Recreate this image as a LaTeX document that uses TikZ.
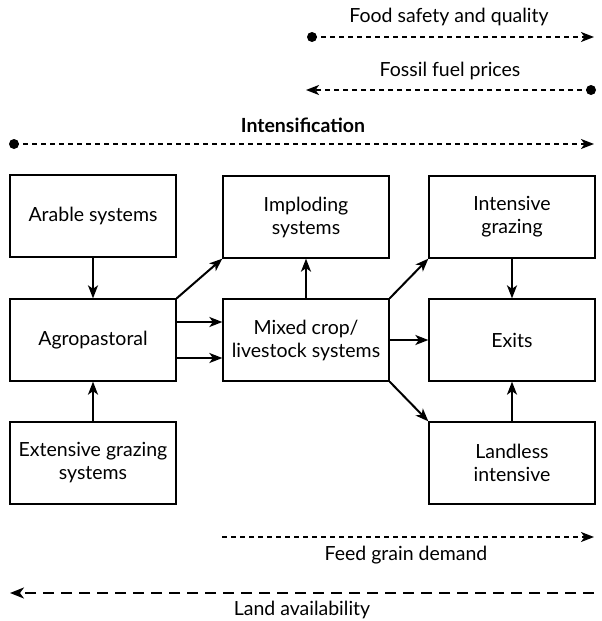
\documentclass[tikz,border=0pt]{standalone}
\usepackage{fontspec}
\setmainfont{Lato}
\usetikzlibrary{arrows.meta}
\begin{document}
\begin{tikzpicture}[x=1pt,y=-1pt,
  box/.style={draw,line width=1.3pt,minimum width=166pt,minimum height=82pt,align=center,inner sep=2pt,font=\fontsize{19.5}{23}\selectfont},
  flow/.style={line width=2pt,-{Stealth[length=13pt,width=10pt,inset=3.5pt]}},
  dotline/.style={line width=1.6pt,dash pattern=on 5pt off 4pt},
  longdash/.style={line width=2pt,dash pattern=on 11pt off 7pt},
  tipR/.style={-{Stealth[length=13pt,width=10pt,inset=3.5pt]}},
  lbl/.style={font=\fontsize{19.5}{23}\selectfont,inner sep=0pt}
]
\useasboundingbox (0,0) rectangle (602,621);
% boxes
\node[box] (arable) at (93,216) {Arable systems};
\node[box] (implod) at (306,217) {Imploding\\systems};
\node[box] (intgraz) at (512,217) {Intensive\\grazing};
\node[box] (agro) at (93,340) {Agropastoral};
\node[box] (mixed) at (306,340) {Mixed crop/\\livestock systems};
\node[box] (exits) at (512,340) {Exits};
\node[box] (ext) at (93,463) {Extensive grazing\\systems};
\node[box] (landless) at (512,463) {Landless\\intensive};
% connectors
\draw[flow] (arable.south) -- (agro.north);
\draw[flow] (ext.north) -- (agro.north |- agro.south);
\draw[flow] (agro.north east) -- (implod.south west);
\draw[flow] ([yshift=-18pt]agro.east) -- ([yshift=-18pt]agro.east -| mixed.west);
\draw[flow] ([yshift=18pt]agro.east) -- ([yshift=18pt]agro.east -| mixed.west);
\draw[flow] (mixed.north) -- (implod.south);
\draw[flow] (mixed.north east) -- (intgraz.south west);
\draw[flow] (mixed.east) -- (exits.west);
\draw[flow] (mixed.south east) -- (landless.north west);
\draw[flow] (intgraz.south) -- (exits.north);
\draw[flow] (landless.north) -- (exits.south);
% trend lines
\coordinate (fsA) at (312,37); \coordinate (fsB) at (594,37);
\node[lbl] (fsT) at (449,17) {Food safety and quality};
\fill (fsA) circle (5pt);
\draw[dotline,tipR] (fsA) -- (fsB);
\coordinate (ffA) at (306,90); \coordinate (ffB) at (591,90);
\node[lbl] (ffT) at (450,71) {Fossil fuel prices};
\fill (ffB) circle (5pt);
\draw[dotline,tipR] (ffB) -- (ffA);
\coordinate (inA) at (14,144); \coordinate (inB) at (594,144);
\node[lbl,font=\fontsize{19.5}{23}\selectfont\bfseries] (inT) at (303,125) {Intensification};
\fill (inA) circle (5pt);
\draw[dotline,tipR] (inA) -- (inB);
\coordinate (fgA) at (222,537); \coordinate (fgB) at (594,537);
\draw[dotline,tipR] (fgA) -- (fgB);
\node[lbl] (fgT) at (406,555) {Feed grain demand};
\coordinate (laA) at (594,593); \coordinate (laB) at (10,593);
\draw[longdash,-{Stealth[length=14pt,width=11pt,inset=4pt]}] (laA) -- (laB);
\node[lbl] (laT) at (302,610) {Land availability};
\end{tikzpicture}
\end{document}
